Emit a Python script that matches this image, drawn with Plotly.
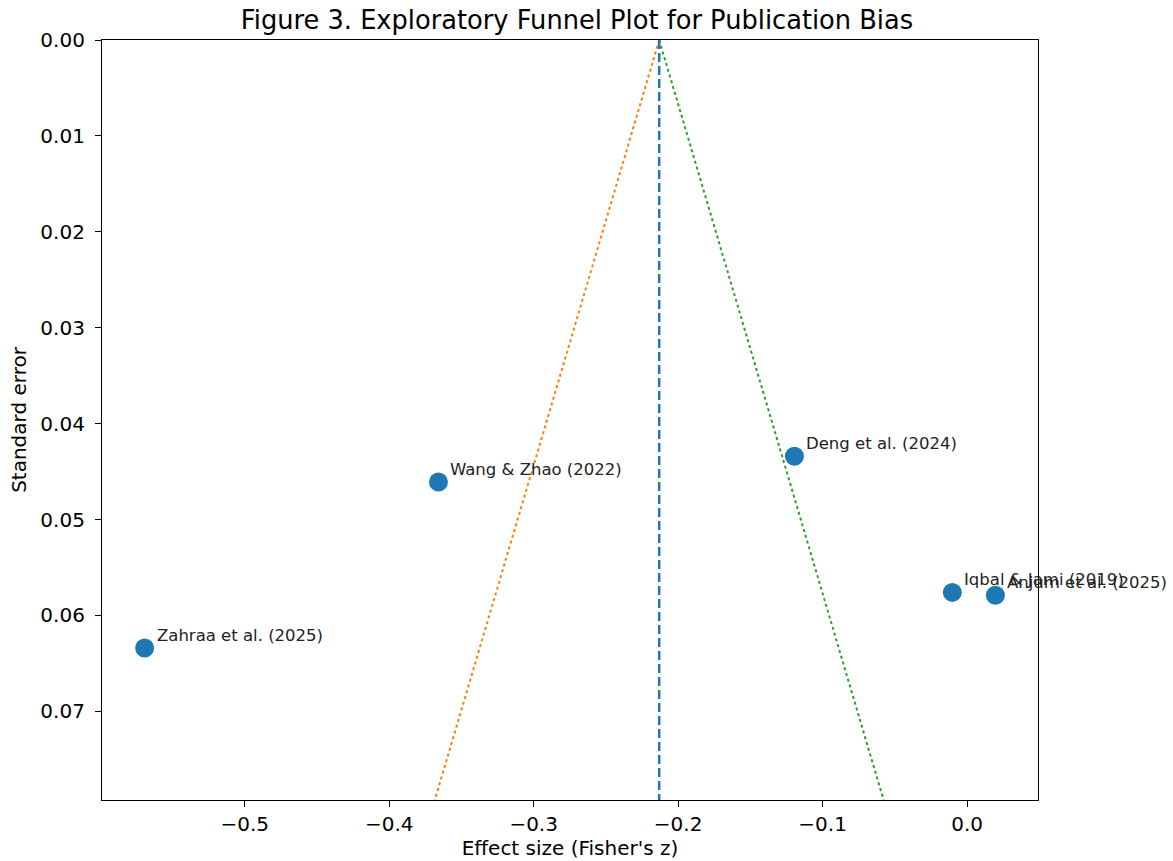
import plotly.graph_objects as go

studies = ["Zahraa et al. (2025)", "Wang & Zhao (2022)", "Deng et al. (2024)",
           "Iqbal & Jami (2019)", "Anjum et al. (2025)"]
effect = [-0.5693, -0.3659, -0.1195, -0.0102, 0.0196]
se = [0.0634, 0.0461, 0.0434, 0.0576, 0.0579]
pooled = -0.2131
se_max = max(se) * 1.25
z_crit = 1.96

x_range = [-0.5988, 0.0491]
y_range = [se_max, 0.0]

font = "DejaVu Sans"
W, H = 1173, 861
fig = go.Figure()

# funnel lines
fig.add_trace(go.Scatter(x=[pooled, pooled - z_crit * se_max], y=[0, se_max], mode="lines",
                         line=dict(color="#ff7f0e", width=2, dash="dot"), showlegend=False))
fig.add_trace(go.Scatter(x=[pooled, pooled + z_crit * se_max], y=[0, se_max], mode="lines",
                         line=dict(color="#2ca02c", width=2, dash="dot"), showlegend=False))
fig.add_trace(go.Scatter(x=[pooled, pooled], y=[0, se_max], mode="lines",
                         line=dict(color="#1f77b4", width=2.5, dash="9px,4px"), showlegend=False))

fig.add_trace(go.Scatter(x=effect, y=se, mode="markers",
                         marker=dict(color="#1f77b4", size=19, line=dict(width=0)),
                         showlegend=False, cliponaxis=False))

for name, xv, yv in zip(studies, effect, se):
    fig.add_annotation(x=xv, y=yv, text=name, showarrow=False, xanchor="left", yanchor="bottom",
                       xshift=10, yshift=1, font=dict(family=font, size=16.5, color="#222"))

axis_common = dict(showline=True, linecolor="black", linewidth=1.2, mirror=True,
                   ticks="outside", ticklen=6, tickwidth=1.2, tickcolor="black",
                   showgrid=False, zeroline=False,
                   tickfont=dict(family=font, size=20, color="black"), automargin=False)

fig.update_xaxes(range=x_range, tickformat=".1f", dtick=0.1, tick0=0,
                 title=dict(text="Effect size (Fisher's z)", font=dict(family=font, size=20, color="black"),
                            standoff=4),
                 **axis_common)
fig.update_yaxes(range=y_range, tickformat=".2f", dtick=0.01, tick0=0, ticklabelstandoff=6,
                 title=dict(text="Standard error", font=dict(family=font, size=20, color="black"),
                            standoff=8),
                 **axis_common)

fig.update_layout(
    width=W, height=H,
    margin=dict(l=102, r=135, t=40, b=61),
    paper_bgcolor="white", plot_bgcolor="white",
    title=dict(text="Figure 3. Exploratory Funnel Plot for Publication Bias",
               x=577 / W, xanchor="center", xref="container",
               y=1 - 20 / H, yanchor="middle", yref="container", pad=dict(t=0, b=0, l=0, r=0),
               font=dict(family=font, size=25.7, color="black")),
)

fig.write_html("out.html", config={"displayModeBar": False},
               post_script="document.body.style.margin='0';")
